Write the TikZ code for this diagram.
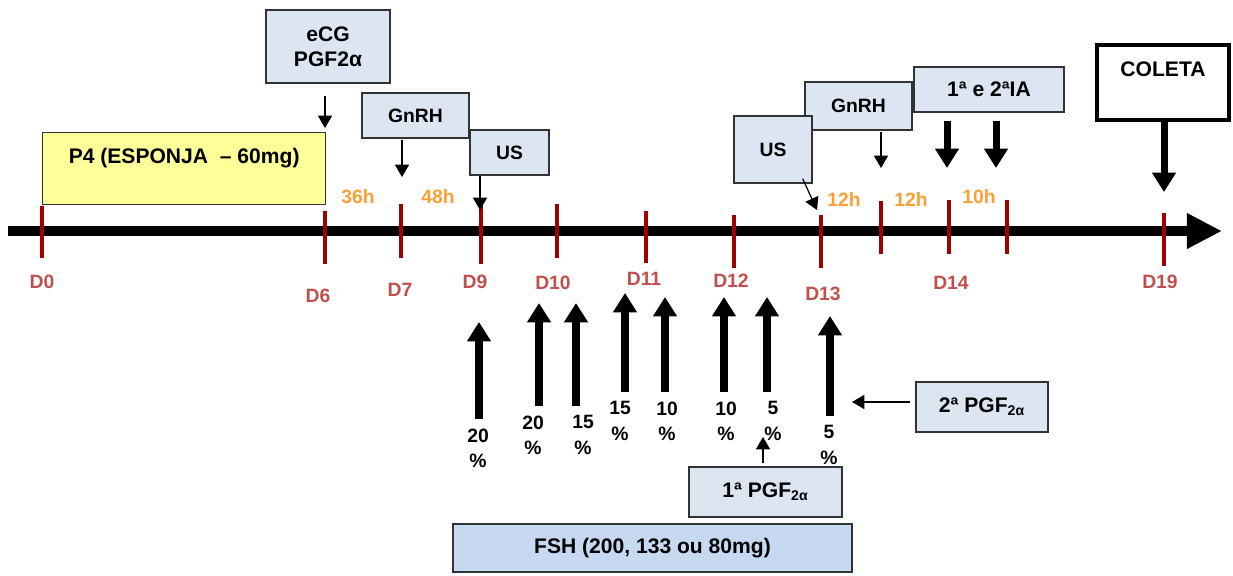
\documentclass[tikz,border=0pt]{standalone}
\usepackage{fontspec}
\setmainfont{Liberation Sans}
\usetikzlibrary{arrows.meta,positioning}

\definecolor{boxblue}{HTML}{DCE6F2}
\definecolor{fshblue}{HTML}{C6D9F1}
\definecolor{spongeyellow}{HTML}{FFFF99}
\definecolor{tickred}{HTML}{A00000}
\definecolor{dayred}{HTML}{C0504D}
\definecolor{hourorange}{HTML}{F9A033}

\begin{document}
\begin{tikzpicture}[
    x = 0.02cm, y = -0.02cm, % one unit is one pixel, y runs down
    font = \bfseries\fontsize{11}{14}\selectfont,
    semithick % line style
    ]

    \tikzset{
    box/.style = {draw = black!80, line width = 0.8pt, fill = boxblue,
        inner sep = 0pt, align = center, font = \bfseries\fontsize{12}{14.2}\selectfont},
    smallbox/.style = {box, font = \bfseries\fontsize{11}{14}\selectfont},
    thinarrow/.style = {-{Triangle[width=8pt,length=7pt]}, line width = 0.7pt},
    fatarrow/.style = {-{Triangle[width=13pt,length=11pt]}, line width = 4pt},
    tick/.style = {tickred, line width = 2.8pt},
    day/.style = {text = dayred, inner sep = 0pt},
    hour/.style = {text = hourorange, inner sep = 0pt},
    pct/.style = {inner sep = 0pt, align = center, font = \bfseries\fontsize{11}{14.7}\selectfont}
    }

    \useasboundingbox (0,0) rectangle (1233,575);

    % time line
    \coordinate (start) at (8,231);
    \coordinate (end) at (1222,231);
    \draw[line width = 6.2pt, -{Triangle[width=19pt,length=20pt]}] (start) -- (end);

    % days
    \foreach \d/\x/\ya/\yb/\lx/\ly in {0/42/206/258/42/282, 6/325/211/264/318/296,
        7/401/204/258/400/290, 9/481/204/264/475/282, 10/557/204/258/553/283,
        11/646/211/263/644/279, 12/734/215/268/731/281, 13/821/215/268/823/294,
        14/949/200/254/951/283, 19/1164/213/266/1160/282}
    {
        \draw[tick] (\x,\ya) -- (\x,\yb);
        \node[day] (d\d) at (\lx,\ly) {D\d};
    }
    \draw[tick] (881,201) -- (881,254);
    \draw[tick] (1007,200) -- (1007,254);

    % hours
    \node[hour] (h36) at (358,197) {36h};
    \node[hour] (h48) at (438,197) {48h};
    \node[hour] (h12a) at (844,199) {12h};
    \node[hour] (h12b) at (911,199) {12h};
    \node[hour] (h10) at (979,197) {10h};

    % boxes above the line
    \node[box, minimum width = 2.48cm, minimum height = 1.46cm] (ecg) at (328,46.5) {eCG\\PGF2α};
    \node[box, fill = spongeyellow, anchor = north west, minimum width = 5.66cm,
        text height = 0.61cm, text depth = 0.83cm] (p4) at (42,132) {P4 (ESPONJA~ – 60mg)};
    \node[smallbox, minimum width = 2.14cm, minimum height = 0.9cm] (gnrh1) at (415.5,115.5) {GnRH};
    \node[smallbox, minimum width = 1.58cm, minimum height = 0.9cm] (us1) at (509.5,152.5) {US};
    \node[smallbox, minimum width = 2.14cm, minimum height = 0.96cm] (gnrh2) at (858.5,106) {GnRH};
    \node[smallbox, minimum width = 1.56cm, minimum height = 1.34cm] (us2) at (773,149.5) {US};
    \node[box, minimum width = 3cm, minimum height = 0.9cm] (ia) at (989,89.5) {1ª e 2ªIA};
    \node[box, fill = white, draw = black, line width = 2.3pt, anchor = north,
        minimum width = 2.65cm, text height = 0.63cm, text depth = 0.87cm] (coleta) at (1163,43) {COLETA};

    % boxes below the line
    \node[box, minimum width = 3.06cm, minimum height = 1cm] (pgf1) at (765.5,492) {1ª PGF\textsubscript{2α}};
    \node[box, minimum width = 2.64cm, minimum height = 1cm] (pgf2) at (982,407) {2ª PGF\textsubscript{2α}};
    \node[box, fill = fshblue, minimum width = 7.98cm, minimum height = 0.96cm] (fsh) at (652.5,548) {FSH (200, 133 ou 80mg)};

    % arrows onto the line
    \coordinate (ecgtip) at (325,128);
    \coordinate (gnrh1tip) at (402,177);
    \coordinate (us1tip) at (480,210);
    \coordinate (us2tip) at (817,210);
    \coordinate (gnrh2tip) at (881,168);
    \coordinate (ia1tip) at (947,168);
    \coordinate (ia2tip) at (996,168);
    \coordinate (coletatip) at (1164,192);
    \draw[thinarrow, shorten <= 7pt] (ecg.south -| ecgtip) -- (ecgtip);
    \draw[thinarrow, shorten <= 1pt] (gnrh1.south -| gnrh1tip) -- (gnrh1tip);
    \draw[thinarrow] (us1.south -| us1tip) -- (us1tip);
    \draw[thinarrow] (us2.south east) ++(-10,-5) -- (us2tip);
    \draw[thinarrow, shorten <= 1pt] (gnrh2.south -| gnrh2tip) -- (gnrh2tip);
    \draw[fatarrow, shorten <= 4.5pt] (ia.south -| ia1tip) -- (ia1tip);
    \draw[fatarrow, shorten <= 4.5pt] (ia.south -| ia2tip) -- (ia2tip);
    \draw[fatarrow] (coleta.south -| coletatip) -- (coletatip);

    % FSH doses
    \foreach \n/\ax/\hy/\lx/\ly/\v in {1/479/322/478/428/20, 2/539/303/533/415/20,
        3/576/303/583/415/15, 4/625/293/620/401/15, 5/665/297/667/401/10,
        6/724/297/726/401/10, 7/767/297/773/401/5, 8/830/316/829/425/5}
    {
        \node[pct, anchor = north] (pct\n) at (\lx,\ly) {\v\\\%};
        \coordinate (tip\n) at (\ax,\hy);
        \draw[fatarrow, shorten <= 5pt] (pct\n.north -| tip\n) -- (tip\n);
    }

    % prostaglandin
    \coordinate (pgf1tip) at (763,437);
    \coordinate (pgf2tip) at (852,402);
    \draw[thinarrow, shorten <= 2pt] (pgf1.north -| pgf1tip) -- (pgf1tip);
    \draw[thinarrow, shorten <= 3pt] (pgf2.west |- pgf2tip) -- (pgf2tip);
\end{tikzpicture}
\end{document}
